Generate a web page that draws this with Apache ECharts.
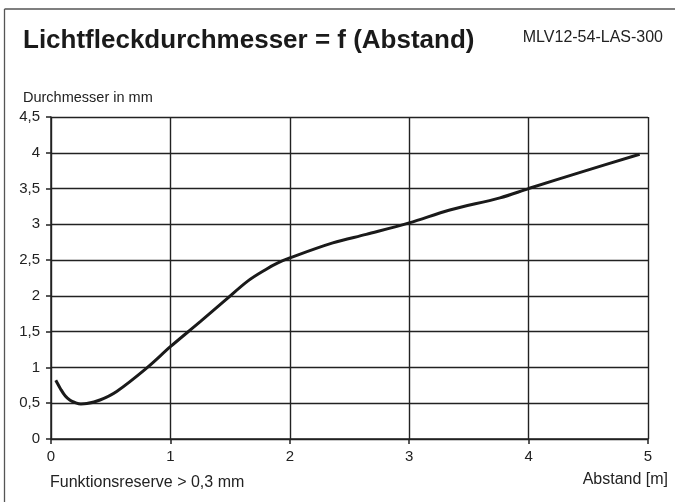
<!DOCTYPE html>
<html>
<head>
<meta charset="utf-8">
<script src="https://cdn.jsdelivr.net/npm/echarts@6/dist/echarts.min.js"></script>
<style>html,body{margin:0;padding:0;background:#fff}#c{width:675px;height:502px}</style>
</head>
<body>
<div id="c"></div>
<script>
var abstand = [0.04, 0.08, 0.12, 0.16, 0.2, 0.25, 0.3, 0.41, 0.55, 0.8, 1.0, 1.25, 1.46, 1.65, 1.8, 1.9, 2.0, 2.36, 2.64, 3.0, 3.34, 3.76, 4.0, 4.46, 4.93];
var durchmesser = [0.82, 0.7, 0.6, 0.54, 0.51, 0.49, 0.495, 0.545, 0.665, 0.99, 1.29, 1.64, 1.94, 2.21, 2.37, 2.46, 2.53, 2.74, 2.86, 3.02, 3.2, 3.37, 3.5, 3.74, 3.98];
var xTicks = [0, 1, 2, 3, 4, 5];
var yTicks = [0, 0.5, 1, 1.5, 2, 2.5, 3, 3.5, 4, 4.5];

var chart = echarts.init(document.getElementById('c'));
var font = 'Liberation Sans, Arial, sans-serif';
var pts = abstand.map(function (x, i) { return [x, durchmesser[i]]; });
chart.setOption({
  animation: false,
  backgroundColor: '#fff',
  title: [{
    text: 'Lichtfleckdurchmesser = f (Abstand)',
    left: 18, top: 23,
    textStyle: { fontFamily: font, fontSize: 26, fontWeight: 'bold', color: '#1a1a1a' }
  }, {
    text: 'MLV12-54-LAS-300',
    right: 7, top: 25,
    textStyle: { fontFamily: font, fontSize: 16, fontWeight: 'normal', color: '#222' }
  }],
  grid: { left: 51, right: 27, top: 117, bottom: 63, containLabel: false },
  xAxis: {
    type: 'value', min: 0, max: 5, interval: 1,
    axisLine: { show: true, lineStyle: { color: '#222', width: 1.5 } },
    axisTick: { show: true, length: 5, lineStyle: { color: '#222', width: 1.5 } },
    splitLine: { show: true, lineStyle: { color: '#222', width: 1.4 } },
    axisLabel: { fontFamily: font, fontSize: 15, color: '#222', margin: 10,
      formatter: function (v) { return xTicks.indexOf(v) >= 0 ? String(v) : ''; } }
  },
  yAxis: {
    type: 'value', min: 0, max: 4.5, interval: 0.5,
    axisLine: { show: true, lineStyle: { color: '#222', width: 1.5 } },
    axisTick: { show: true, length: 5, lineStyle: { color: '#222', width: 1.5 } },
    splitLine: { show: true, lineStyle: { color: '#222', width: 1.4 } },
    axisLabel: { fontFamily: font, fontSize: 15, color: '#222', margin: 11,
      formatter: function (v) { return yTicks.indexOf(v) >= 0 ? String(v).replace('.', ',') : ''; } }
  },
  graphic: [
    { type: 'line', shape: { x1: 4.5, y1: 9, x2: 4.5, y2: 502 }, style: { stroke: '#555', lineWidth: 1.3 } },
    { type: 'line', shape: { x1: 4.5, y1: 9, x2: 675, y2: 9 }, style: { stroke: '#555', lineWidth: 1.3 } },
    { type: 'text', left: 23, top: 90, style: { text: 'Durchmesser in mm', font: '14.5px ' + font, fill: '#222' } },
    { type: 'text', right: 7, top: 472, style: { text: 'Abstand [m]', font: '16px ' + font, fill: '#222' } },
    { type: 'text', left: 50, top: 475, style: { text: 'Funktionsreserve > 0,3 mm', font: '16px ' + font, fill: '#222' } }
  ],
  series: [{
    type: 'line', data: pts, smooth: 0.35, symbol: 'none',
    lineStyle: { color: '#1a1a1a', width: 3 }
  }]
});
</script>
</body>
</html>
